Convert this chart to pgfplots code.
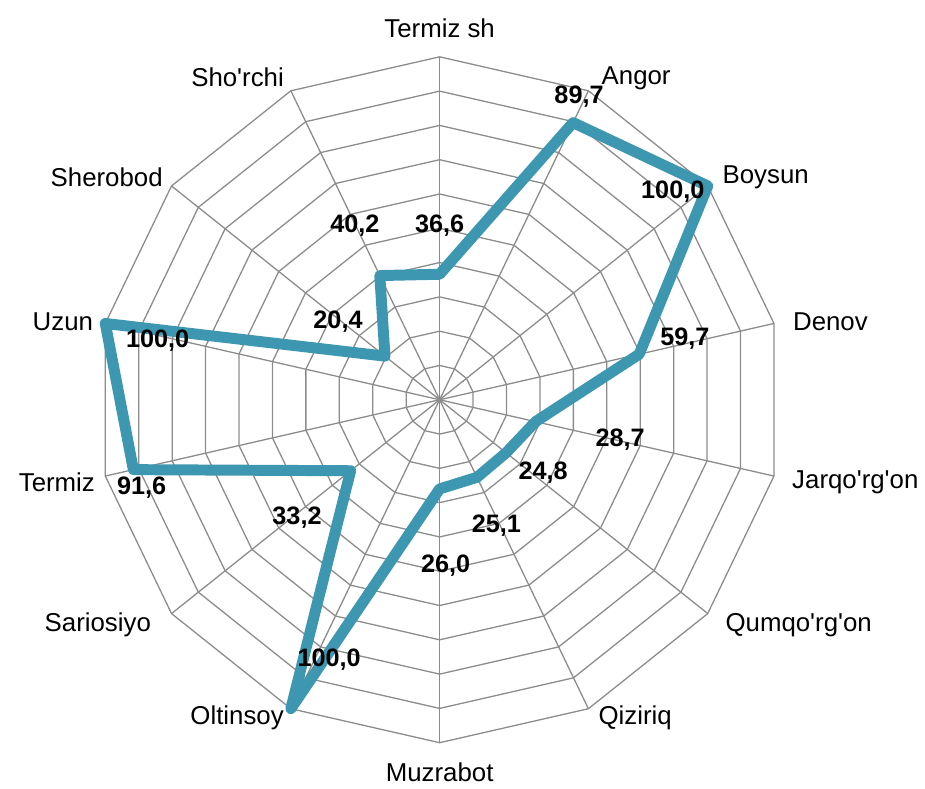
\documentclass[border=0pt]{standalone}
\usepackage{fontspec}
\setmainfont{Liberation Sans}[Ligatures=TeXOff]
\usepackage{pgfplots}
\pgfplotsset{compat=1.18}
\usepgfplotslibrary{polar}
\definecolor{Teal}{HTML}{3D97B0}
\definecolor{Grid}{HTML}{8C8C8C}
\tikzset{
  cat/.style={font=\fontsize{13}{15}\selectfont},
  val/.style={font=\fontsize{12.7}{14}\selectfont\bfseries},
}

\begin{document}
\begin{tikzpicture}
\begin{polaraxis}[
    at={(0,0)}, anchor=origin,
    scale only axis, width=344bp, height=344bp,
    xmin=0, xmax=360, ymin=0, ymax=100,
    hide axis, clip=false,
  ]
  % spokes
  \pgfplotsinvokeforeach{90,64.2857,38.5714,12.8571,-12.8571,-38.5714,-64.2857,-90,-115.7143,-141.4286,-167.1429,-192.8571,-218.5714,-244.2857}{
    \addplot[Grid, line width=0.65bp] coordinates {(#1,0) (#1,100)};
  }
  % rings
  \pgfplotsinvokeforeach{10,20,30,40,50,60,70,80,90,100}{
    \addplot[Grid, line width=0.65bp] coordinates {
      (90,#1) (64.2857,#1) (38.5714,#1) (12.8571,#1) (-12.8571,#1)
      (-38.5714,#1) (-64.2857,#1) (-90,#1) (-115.7143,#1) (-141.4286,#1)
      (-167.1429,#1) (-192.8571,#1) (-218.5714,#1) (-244.2857,#1) (-270,#1)};
  }
  % data
  \addplot[Teal, line width=5.5bp, line join=round, line cap=round] coordinates {
    (90,36.6)        % Termiz sh
    (64.2857,89.7)   % Angor
    (38.5714,100.0)  % Boysun
    (12.8571,59.7)   % Denov
    (-12.8571,28.7)  % Jarqo'rg'on
    (-38.5714,24.8)  % Qumqo'rg'on
    (-64.2857,25.1)  % Qiziriq
    (-90,26.0)       % Muzrabot
    (-115.7143,100.0)% Oltinsoy
    (-141.4286,33.2) % Sariosiyo
    (-167.1429,91.6) % Termiz
    (-192.8571,100.0)% Uzun
    (-218.5714,20.4) % Sherobod
    (-244.2857,40.2) % Sho'rchi
    (-270,36.6)
  };
  % category labels
  \node[cat] at (axis cs:90,108.4) {Termiz sh};
  \node[cat] at (axis cs:58.6,110.0) {Angor};
  \node[cat] at (axis cs:34.3,115.1) {Boysun};
  \node[cat] at (axis cs:11.25,116.2) {Denov};
  \node[cat] at (axis cs:-11.26,123.6) {Jarqo'rg'on};
  \node[cat] at (axis cs:-32.1,123.6) {Qumqo'rg'on};
  \node[cat] at (axis cs:-58.4,108.8) {Qiziriq};
  \node[cat] at (axis cs:-90,108.7) {Muzrabot};
  \node[cat] at (axis cs:-122.5,109.9) {Oltinsoy};
  \node[cat] at (axis cs:-146.6,119.4) {Sariosiyo};
  \node[cat] at (axis cs:-167.8,114.2) {Termiz};
  \node[cat] at (axis cs:168.3,112.2) {Uzun};
  \node[cat] at (axis cs:146.3,116.7) {Sherobod};
  \node[cat] at (axis cs:122.1,110.9) {Sho'rchi};
  % value labels
  \node[val] at (axis cs:90,50.9) {36,6};
  \node[val] at (axis cs:65.3,97.3) {89,7};
  \node[val] at (axis cs:41.8,91.2) {100,0};
  \node[val] at (axis cs:13.9,73.7) {59,7};
  \node[val] at (axis cs:-12.5,53.9) {28,7};
  \node[val] at (axis cs:-35.1,36.9) {24,8};
  \node[val] at (axis cs:-65.7,40.2) {25,1};
  \node[val] at (axis cs:-87.9,48.3) {26,0};
  \node[val] at (axis cs:-113.0,82.4) {100,0};
  \node[val] at (axis cs:-140.5,53.9) {33,2};
  \node[val] at (axis cs:-163.6,90.6) {91,6};
  \node[val] at (axis cs:168.2,84.0) {100,0};
  \node[val] at (axis cs:142.6,37.3) {20,4};
  \node[val] at (axis cs:115.9,56.6) {40,2};
\end{polaraxis}
\path (-220.5bp,-193bp) rectangle (242bp,200.5bp);
\end{tikzpicture}
\end{document}
